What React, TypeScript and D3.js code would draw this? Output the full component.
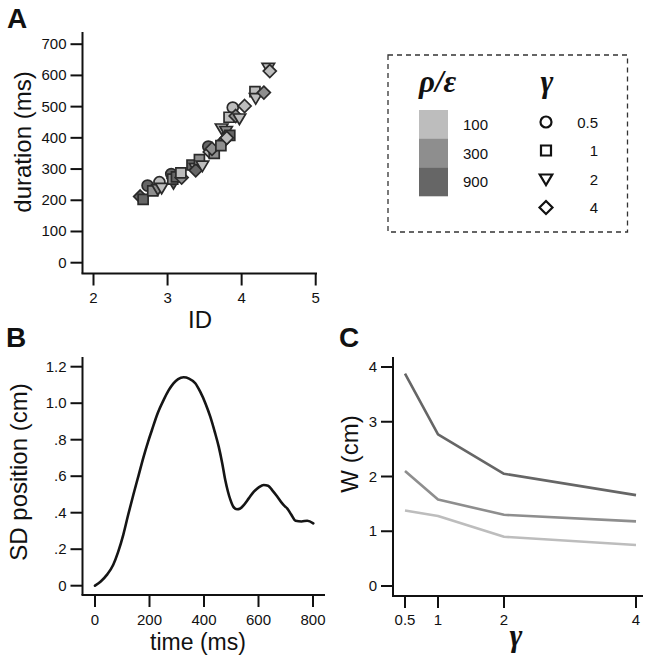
import React from "react";
import * as d3 from "d3";

// ---------- Data ----------
// Panel A scatter
const scatterID = [2.63, 2.67, 2.73, 2.8, 2.89, 2.87, 2.92, 3.05, 3.08, 3.07, 3.12, 3.19, 3.18, 3.33, 3.38, 3.38, 3.43, 3.47, 3.55, 3.57, 3.63, 3.6, 3.73, 3.77, 3.72, 3.79, 3.84, 3.8, 3.88, 3.83, 3.92, 3.97, 4.04, 4.18, 4.19, 4.3, 4.36, 4.38];
const scatterDuration = [212, 203, 247, 230, 258, 236, 240, 284, 255, 268, 275, 273, 288, 313, 303, 296, 330, 311, 372, 355, 350, 365, 430, 393, 375, 422, 408, 400, 497, 466, 470, 462, 502, 548, 527, 545, 624, 614];
const scatterRho = [2, 2, 2, 1, 0, 1, 0, 2, 2, 1, 2, 1, 0, 2, 0, 2, 1, 0, 2, 0, 1, 1, 0, 2, 1, 1, 2, 0, 0, 0, 1, 0, 0, 0, 0, 1, 0, 0];
const scatterGamma = [3, 1, 0, 1, 0, 2, 2, 0, 2, 1, 1, 3, 1, 1, 2, 3, 1, 2, 0, 3, 1, 3, 2, 3, 1, 2, 1, 3, 0, 1, 3, 2, 3, 1, 2, 3, 2, 3];

const rhoLabels = ["100", "300", "900"];
const rhoColors = ["#bdbdbd", "#8e8e8e", "#666666"];
const gammaLabels = ["0.5", "1", "2", "4"];
const gammaShapes = ["circle", "square", "triangle", "diamond"];

const aXTicks = [2, 3, 4, 5];
const aYTicks = [0, 100, 200, 300, 400, 500, 600, 700];

// Panel B curve
const timeMs = [0, 20, 45, 67, 85, 104, 122, 141, 160, 178, 195, 209, 230, 252, 270, 288, 305, 325, 345, 368, 386, 405, 423, 440, 454, 467, 478, 488, 497, 508, 521, 533, 546, 565, 583, 602, 619, 635, 650, 668, 687, 697, 705, 720, 736, 758, 779, 801];
const sdPos = [0, 0.022, 0.062, 0.115, 0.185, 0.28, 0.39, 0.5, 0.605, 0.705, 0.79, 0.853, 0.945, 1.018, 1.07, 1.109, 1.132, 1.142, 1.135, 1.109, 1.063, 1.0, 0.926, 0.84, 0.762, 0.67, 0.579, 0.515, 0.47, 0.432, 0.419, 0.423, 0.442, 0.48, 0.515, 0.54, 0.552, 0.548, 0.524, 0.49, 0.451, 0.435, 0.424, 0.39, 0.356, 0.352, 0.356, 0.342];
const bXTicks = [0, 200, 400, 600, 800];
const bYTicks = [0, 0.2, 0.4, 0.6, 0.8, 1.0, 1.2];
const bYTickLabels = ["0", ".2", ".4", ".6", ".8", "1.0", "1.2"];

// Panel C lines
const gammaValues = [0.5, 1, 2, 4];
const wRho100 = [1.38, 1.28, 0.9, 0.75];
const wRho300 = [2.1, 1.58, 1.3, 1.18];
const wRho900 = [3.88, 2.77, 2.05, 1.66];
const cYTicks = [0, 1, 2, 3, 4];

const SANS = "'Liberation Sans', Arial, Helvetica, sans-serif";
const SERIF = "'Liberation Serif', 'Times New Roman', serif";

function shapePath(shape: string, cx: number, cy: number, s: number): string {
  if (shape === "square") {
    return `M${cx - s},${cy - s}H${cx + s}V${cy + s}H${cx - s}Z`;
  }
  if (shape === "triangle") {
    const w = s * 1.25;
    return `M${cx - w},${cy - s * 0.9}H${cx + w}L${cx},${cy + s * 1.2}Z`;
  }
  if (shape === "diamond") {
    const r = s * 1.3;
    return `M${cx},${cy - r}L${cx + r},${cy}L${cx},${cy + r}L${cx - r},${cy}Z`;
  }
  return "";
}

function Marker({ shape, cx, cy, s, fill, stroke, sw }: any) {
  if (shape === "circle") {
    return <circle cx={cx} cy={cy} r={s * 1.1} fill={fill} stroke={stroke} strokeWidth={sw} />;
  }
  return <path d={shapePath(shape, cx, cy, s)} fill={fill} stroke={stroke} strokeWidth={sw} strokeLinejoin="miter" />;
}

export default function App() {
  const W = 653;
  const H = 662;
  const tickLen = 12;
  const axisColor = "#111";
  const tickFont = 15;
  const labelFont = 24;

  // Panel A scales
  const ax = d3.scaleLinear().domain([2, 5]).range([93.5, 315.7]);
  const ay = d3.scaleLinear().domain([0, 700]).range([262.7, 44.2]);
  const aAxisX = 82.5;
  const aAxisY = 273.5;

  // Panel B scales
  const bx = d3.scaleLinear().domain([0, 800]).range([95, 313]);
  const by = d3.scaleLinear().domain([0, 1.2]).range([585.7, 366.7]);
  const bAxisX = 82.5;
  const bAxisY = 595;

  // Panel C scales
  const cx = d3.scaleLinear().domain([0.5, 4]).range([405, 636]);
  const cy = d3.scaleLinear().domain([0, 4]).range([586, 367]);
  const cAxisX = 393;
  const cAxisY = 596;

  const bLine = d3
    .line<number>()
    .x((_, i) => bx(timeMs[i]))
    .y((v) => by(v))
    .curve(d3.curveMonotoneX);

  const cLine = d3
    .line<number>()
    .x((_, i) => cx(gammaValues[i]))
    .y((v) => cy(v));

  const cSeries = [
    { vals: wRho100, color: rhoColors[0] },
    { vals: wRho300, color: rhoColors[1] },
    { vals: wRho900, color: rhoColors[2] },
  ];

  return (
    <svg
      width={W}
      height={H}
      style={{ position: "absolute", left: 0, top: 0, background: "#fff" }}
      fontFamily={SANS}
    >
      <rect x={0} y={0} width={W} height={H} fill="#fff" />

      {/* ---------- Panel A ---------- */}
      <text x={7} y={28} fontSize={28} fontWeight="bold" fill="#111">A</text>
      <line x1={aAxisX} x2={aAxisX} y1={32} y2={aAxisY} stroke={axisColor} strokeWidth={2} />
      <line x1={aAxisX - 1} x2={317} y1={aAxisY} y2={aAxisY} stroke={axisColor} strokeWidth={2} />
      {aYTicks.map((t) => (
        <g key={"ay" + t}>
          <line x1={aAxisX - tickLen} x2={aAxisX} y1={ay(t)} y2={ay(t)} stroke={axisColor} strokeWidth={2} />
          <text x={aAxisX - tickLen - 4} y={ay(t) + 5} fontSize={tickFont} textAnchor="end" fill="#111">{t}</text>
        </g>
      ))}
      {aXTicks.map((t) => (
        <g key={"ax" + t}>
          <line x1={ax(t)} x2={ax(t)} y1={aAxisY} y2={aAxisY + tickLen} stroke={axisColor} strokeWidth={2} />
          <text x={ax(t)} y={303} fontSize={tickFont} textAnchor="middle" fill="#111">{t}</text>
        </g>
      ))}
      <text x={200} y={328} fontSize={labelFont} textAnchor="middle" fill="#111">ID</text>
      <text transform={`translate(31,142) rotate(-90)`} fontSize={labelFont} textAnchor="middle" fill="#111">duration (ms)</text>
      {scatterID.map((id, i) => (
        <Marker
          key={"pt" + i}
          shape={gammaShapes[scatterGamma[i]]}
          cx={ax(id)}
          cy={ay(scatterDuration[i])}
          s={5}
          fill={rhoColors[scatterRho[i]]}
          stroke="#2a2a2a"
          sw={1.7}
        />
      ))}

      {/* ---------- Legend ---------- */}
      <rect x={388} y={55} width={239.5} height={177} fill="none" stroke="#333" strokeWidth={1.3} strokeDasharray="5,4" />
      <text x={419} y={92} fontSize={31} fontWeight="bold" fontStyle="italic" fontFamily={SERIF} fill="#111">ρ/ε</text>
      <text x={547} y={92} fontSize={31} fontWeight="bold" fontStyle="italic" fontFamily={SERIF} textAnchor="middle" fill="#111">γ</text>
      {rhoLabels.map((lab, i) => (
        <g key={"rl" + i}>
          <rect x={419} y={110 + i * 28.7} width={29} height={28.9} fill={rhoColors[i]} />
          <text x={463} y={110 + i * 28.7 + 20} fontSize={15} fill="#111">{lab}</text>
        </g>
      ))}
      {gammaLabels.map((lab, i) => (
        <g key={"gl" + i}>
          <Marker shape={gammaShapes[i]} cx={546} cy={122 + i * 28.5} s={5} fill="#fff" stroke="#111" sw={2.2} />
          <text x={598} y={122 + i * 28.5 + 5.5} fontSize={15} textAnchor="end" fill="#111">{lab}</text>
        </g>
      ))}

      {/* ---------- Panel B ---------- */}
      <text x={6} y={347} fontSize={28} fontWeight="bold" fill="#111">B</text>
      <line x1={bAxisX} x2={bAxisX} y1={357} y2={bAxisY} stroke={axisColor} strokeWidth={2} />
      <line x1={bAxisX - 1} x2={325} y1={bAxisY} y2={bAxisY} stroke={axisColor} strokeWidth={2} />
      {bYTicks.map((t, i) => (
        <g key={"by" + t}>
          <line x1={bAxisX - tickLen} x2={bAxisX} y1={by(t)} y2={by(t)} stroke={axisColor} strokeWidth={2} />
          <text x={bAxisX - tickLen - 4} y={by(t) + 5} fontSize={tickFont} textAnchor="end" fill="#111">{bYTickLabels[i]}</text>
        </g>
      ))}
      {bXTicks.map((t) => (
        <g key={"bx" + t}>
          <line x1={bx(t)} x2={bx(t)} y1={bAxisY} y2={bAxisY + tickLen} stroke={axisColor} strokeWidth={2} />
          <text x={bx(t)} y={625} fontSize={tickFont} textAnchor="middle" fill="#111">{t}</text>
        </g>
      ))}
      <text x={198} y={650} fontSize={23} textAnchor="middle" fill="#111">time (ms)</text>
      <text transform={`translate(27,472) rotate(-90)`} fontSize={labelFont} textAnchor="middle" fill="#111">SD position (cm)</text>
      <path d={bLine(sdPos) || ""} fill="none" stroke="#151515" strokeWidth={2.6} strokeLinejoin="round" strokeLinecap="round" />

      {/* ---------- Panel C ---------- */}
      <text x={339} y={347} fontSize={28} fontWeight="bold" fill="#111">C</text>
      <line x1={cAxisX} x2={cAxisX} y1={357} y2={cAxisY} stroke={axisColor} strokeWidth={2} />
      <line x1={cAxisX - 1} x2={643} y1={cAxisY} y2={cAxisY} stroke={axisColor} strokeWidth={2} />
      {cYTicks.map((t) => (
        <g key={"cy" + t}>
          <line x1={cAxisX - tickLen} x2={cAxisX} y1={cy(t)} y2={cy(t)} stroke={axisColor} strokeWidth={2} />
          <text x={cAxisX - tickLen - 4} y={cy(t) + 5} fontSize={tickFont} textAnchor="end" fill="#111">{t}</text>
        </g>
      ))}
      {gammaValues.map((t) => (
        <g key={"cx" + t}>
          <line x1={cx(t)} x2={cx(t)} y1={cAxisY} y2={cAxisY + tickLen} stroke={axisColor} strokeWidth={2} />
          <text x={cx(t)} y={625} fontSize={tickFont} textAnchor="middle" fill="#111">{t}</text>
        </g>
      ))}
      <text x={516} y={646} fontSize={31} fontWeight="bold" fontStyle="italic" fontFamily={SERIF} textAnchor="middle" fill="#111">γ</text>
      <text transform={`translate(358,454) rotate(-90)`} fontSize={labelFont} textAnchor="middle" fill="#111">W (cm)</text>
      {cSeries.map((s, i) => (
        <path key={"cl" + i} d={cLine(s.vals) || ""} fill="none" stroke={s.color} strokeWidth={2.6} strokeLinejoin="round" />
      ))}
    </svg>
  );
}
